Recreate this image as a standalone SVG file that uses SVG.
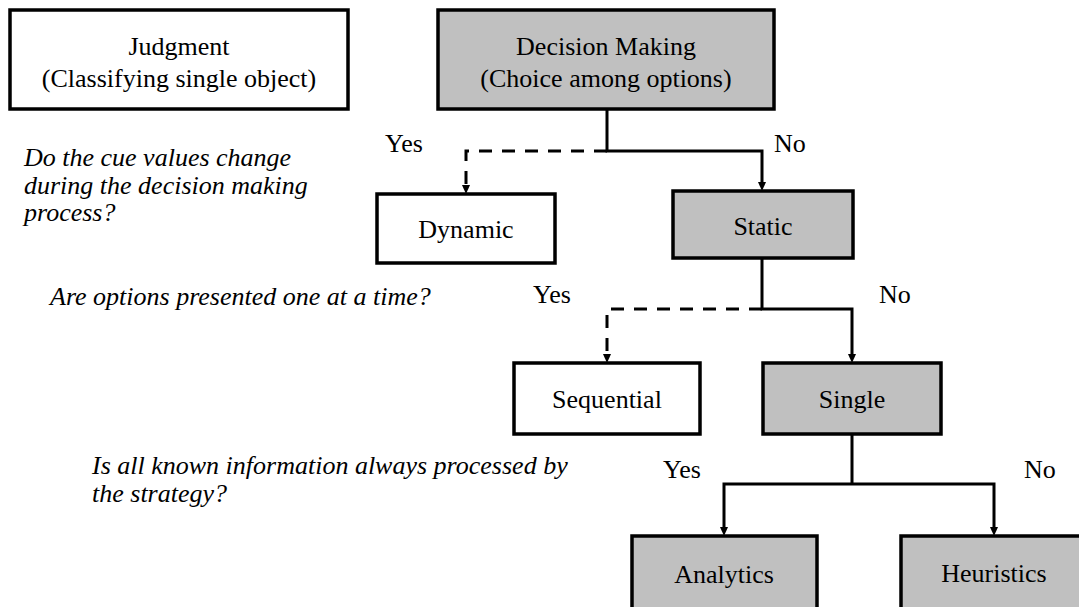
<svg xmlns="http://www.w3.org/2000/svg" width="1079" height="607" viewBox="0 0 1079 607" font-family="Liberation Serif" font-size="26">
  <rect width="1079" height="607" fill="#ffffff"/>

  <!-- connectors: solid for "No", dashed for "Yes"; arrowheads as small triangles -->
  <g id="connectors" fill="none" stroke="#000000" stroke-width="3">
    <path d="M607,109 V151 H762 V182"/>
    <path d="M607,151 H466 V185" stroke-dasharray="13 10"/>
    <path d="M762,258 V309 H852 V354"/>
    <path d="M762,309 H607 V354" stroke-dasharray="13 10"/>
    <path d="M852,434 V484 M724,527 V484 H994 V527"/>
    <g fill="#000000" stroke="none">
      <polygon points="758,182 766,182 762,191"/>
      <polygon points="462,185 470,185 466,194"/>
      <polygon points="848,354 856,354 852,363"/>
      <polygon points="603,354 611,354 607,363"/>
      <polygon points="720,527 728,527 724,536"/>
      <polygon points="990,527 998,527 994,536"/>
    </g>
  </g>

  <!-- branch labels -->
  <g id="branch-labels">
    <text x="385" y="152" font-family="Liberation Serif">Yes</text>
    <text x="774" y="152" font-family="Liberation Serif">No</text>
    <text x="533" y="303" font-family="Liberation Serif">Yes</text>
    <text x="879" y="303" font-family="Liberation Serif">No</text>
    <text x="663" y="478" font-family="Liberation Serif">Yes</text>
    <text x="1024" y="478" font-family="Liberation Serif">No</text>
  </g>

  <!-- questions -->
  <g id="question-cues">
    <text x="24" y="166" font-family="Liberation Serif" font-style="italic">Do the cue values change</text>
    <text x="24" y="193.5" font-family="Liberation Serif" font-style="italic">during the decision making</text>
    <text x="24" y="221" font-family="Liberation Serif" font-style="italic">process?</text>
  </g>
  <g id="question-presentation">
    <text x="50" y="305" font-family="Liberation Serif" font-style="italic">Are options presented one at a time?</text>
  </g>
  <g id="question-information">
    <text x="92" y="474" font-family="Liberation Serif" font-style="italic">Is all known information always processed by</text>
    <text x="92" y="502" font-family="Liberation Serif" font-style="italic">the strategy?</text>
  </g>

  <!-- nodes -->
  <g id="judgment">
    <rect x="10" y="10" width="338" height="99" fill="#ffffff" stroke="#000000" stroke-width="3.5"/>
    <text x="179" y="55" text-anchor="middle" font-family="Liberation Serif">Judgment</text>
    <text x="179" y="87" text-anchor="middle" font-family="Liberation Serif">(Classifying single object)</text>
  </g>
  <g id="decision-making">
    <rect x="438" y="10" width="336" height="99" fill="#c0c0c0" stroke="#000000" stroke-width="3.5"/>
    <text x="606" y="55" text-anchor="middle" font-family="Liberation Serif">Decision Making</text>
    <text x="606" y="87" text-anchor="middle" font-family="Liberation Serif">(Choice among options)</text>
  </g>
  <g id="dynamic">
    <rect x="377" y="194" width="178" height="69" fill="#ffffff" stroke="#000000" stroke-width="3.5"/>
    <text x="466" y="238" text-anchor="middle" font-family="Liberation Serif">Dynamic</text>
  </g>
  <g id="static">
    <rect x="673" y="191" width="180" height="67" fill="#c0c0c0" stroke="#000000" stroke-width="3.5"/>
    <text x="763" y="235" text-anchor="middle" font-family="Liberation Serif">Static</text>
  </g>
  <g id="sequential">
    <rect x="514" y="363" width="186" height="71" fill="#ffffff" stroke="#000000" stroke-width="3.5"/>
    <text x="607" y="408" text-anchor="middle" font-family="Liberation Serif">Sequential</text>
  </g>
  <g id="single">
    <rect x="763" y="363" width="178" height="71" fill="#c0c0c0" stroke="#000000" stroke-width="3.5"/>
    <text x="852" y="408" text-anchor="middle" font-family="Liberation Serif">Single</text>
  </g>
  <g id="analytics">
    <rect x="632" y="536" width="185" height="90" fill="#c0c0c0" stroke="#000000" stroke-width="3.5"/>
    <text x="724" y="583" text-anchor="middle" font-family="Liberation Serif">Analytics</text>
  </g>
  <g id="heuristics">
    <rect x="901" y="536" width="186" height="90" fill="#c0c0c0" stroke="#000000" stroke-width="3.5"/>
    <text x="994" y="582" text-anchor="middle" font-family="Liberation Serif">Heuristics</text>
  </g>
</svg>
